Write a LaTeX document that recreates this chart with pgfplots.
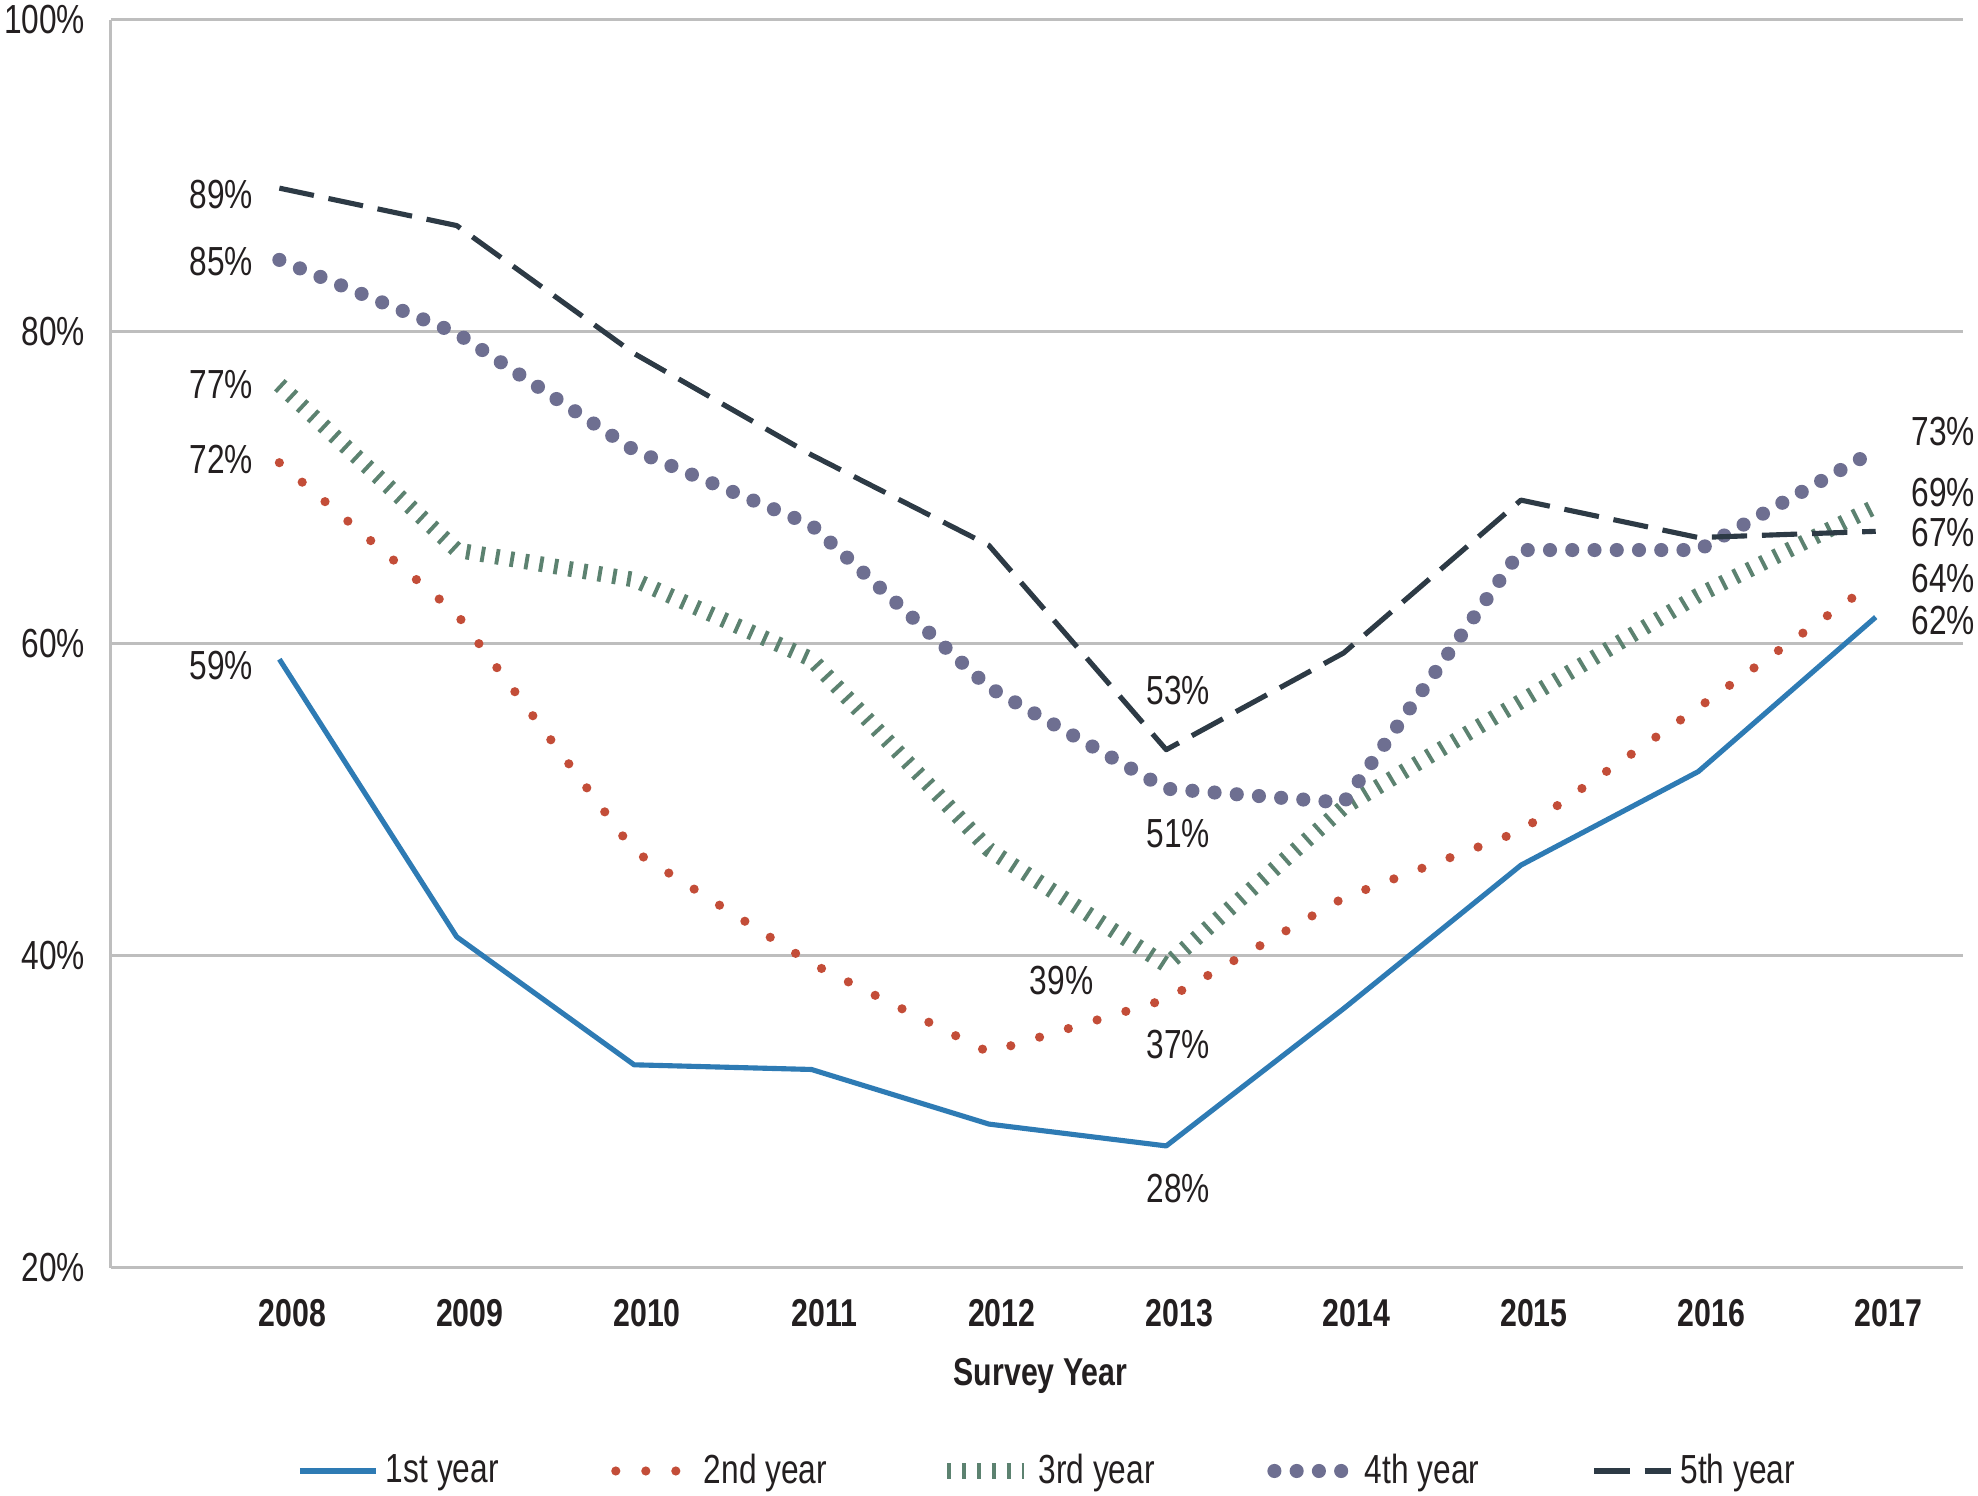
\documentclass[border=0pt]{standalone}
\usepackage{fontspec}
\setmainfont{Liberation Sans}[FakeStretch=0.78]
\usepackage{pgfplots}
\usepackage{pgfplotstable}
\pgfplotsset{compat=1.18}

\definecolor{c1}{HTML}{2E7BB4}
\definecolor{c2}{HTML}{C34D38}
\definecolor{c3}{HTML}{5C8270}
\definecolor{c4}{HTML}{6E6F91}
\definecolor{c5}{HTML}{2D3A45}
\definecolor{gridc}{HTML}{BEBEBE}
\definecolor{txt}{HTML}{231F20}

\pgfplotstableread{
year y1   y2   y3   y4   y5
2008 59.0 71.6 76.6 84.6 89.2
2009 41.2 61.9 66.0 79.9 86.8
2010 33.0 46.7 64.1 72.4 78.6
2011 32.7 39.5 59.0 67.6 72.1
2012 29.2 33.8 46.8 57.2 66.3
2013 27.8 37.2 39.4 50.7 53.2
2014 36.6 43.7 49.5 49.8 59.4
2015 45.8 48.0 56.3 66.0 69.2
2016 51.8 55.9 63.1 66.0 66.8
2017 61.7 64.0 68.8 72.4 67.2
}\datatable

\begin{document}
\begin{tikzpicture}[lbl/.style={font=\fontsize{11.5}{13}\selectfont, text=txt}]
\begin{axis}[
    scale only axis,
    width=18.43cm, height=12.42cm,
    xmin=2007.05, xmax=2017.49,
    ymin=20, ymax=100,
    clip=false,
    axis lines*=left,
    axis line style={-, draw=gridc, line width=0.9pt},
    ymajorgrids,
    grid style={gridc, line width=0.85pt},
    major tick length=0pt,
    ytick={20,40,60,80,100},
    yticklabels={20\%,40\%,60\%,80\%,100\%},
    xtick={2008,...,2017},
    xticklabels={2008,2009,2010,2011,2012,2013,2014,2015,2016,2017},
    yticklabel style={font=\fontsize{11.5}{13}\selectfont, text=txt, inner xsep=0pt, inner ysep=1.5pt, xshift=-0.25cm},
    xticklabel style={font=\fontsize{11}{13}\selectfont\bfseries, text=txt, xshift=0.13cm, yshift=-0.19cm},
    xlabel={Survey Year},
    xlabel style={font=\fontsize{11}{13}\selectfont\bfseries, text=txt, at={(axis description cs:0.502,-0.087)}, anchor=center},
    legend columns=5,
    legend image code/.code={\draw[#1] (0cm,0cm) -- (0.76cm,0cm);},
    legend style={at={(0.507,-0.163)}, anchor=center, draw=none, fill=none, inner sep=0pt,
        font=\fontsize{11.5}{13}\selectfont, text=txt,
        /tikz/every even column/.append style={column sep=1.05cm}},
]
\addplot[c1, line width=1.45pt, line join=round] table[x=year, y=y1]{\datatable};
\addlegendentry{1st year}
\addplot[c2, line width=2.6pt, line cap=round, dash pattern=on 0pt off 8.5pt] table[x=year, y=y2]{\datatable};
\addlegendentry{2nd year}
\addplot[c3, line width=4.4pt, line cap=butt, line join=bevel, dash pattern=on 1.1pt off 3.1pt] table[x=year, y=y3]{\datatable};
\addlegendentry{3rd year}
\addplot[c4, line width=4pt, line cap=round, dash pattern=on 0pt off 6.3pt] table[x=year, y=y4]{\datatable};
\addlegendentry{4th year}
\addplot[c5, line width=1.45pt, line join=round, dash pattern=on 10pt off 4.2pt] table[x=year, y=y5]{\datatable};
\addlegendentry{5th year}

% left labels
\node[lbl, anchor=east, xshift=-0.14cm] at (axis cs:2008,88.8) {89\%};
\node[lbl, anchor=east, xshift=-0.14cm] at (axis cs:2008,84.5) {85\%};
\node[lbl, anchor=east, xshift=-0.14cm] at (axis cs:2008,76.6) {77\%};
\node[lbl, anchor=east, xshift=-0.14cm] at (axis cs:2008,71.8) {72\%};
\node[lbl, anchor=east, xshift=-0.14cm] at (axis cs:2008,58.6) {59\%};
% middle labels
\node[lbl, xshift=0.12cm] at (axis cs:2013,57.0) {53\%};
\node[lbl, xshift=0.12cm] at (axis cs:2013,47.8) {51\%};
\node[lbl] at (axis cs:2012.41,38.4) {39\%};
\node[lbl, xshift=0.12cm] at (axis cs:2013,34.3) {37\%};
\node[lbl, xshift=0.12cm] at (axis cs:2013,25.1) {28\%};
% right labels
\node[lbl, anchor=west, inner xsep=0pt, xshift=0.35cm] at (axis cs:2017,73.6) {73\%};
\node[lbl, anchor=west, inner xsep=0pt, xshift=0.35cm] at (axis cs:2017,69.7) {69\%};
\node[lbl, anchor=west, inner xsep=0pt, xshift=0.35cm] at (axis cs:2017,67.1) {67\%};
\node[lbl, anchor=west, inner xsep=0pt, xshift=0.35cm] at (axis cs:2017,64.2) {64\%};
\node[lbl, anchor=west, inner xsep=0pt, xshift=0.35cm] at (axis cs:2017,61.5) {62\%};
\end{axis}
% small outer margins like the original
\path (current bounding box.south west) ++(-0.04cm,0) (current bounding box.north east) ++(0.03cm,0);
\end{tikzpicture}
\end{document}
